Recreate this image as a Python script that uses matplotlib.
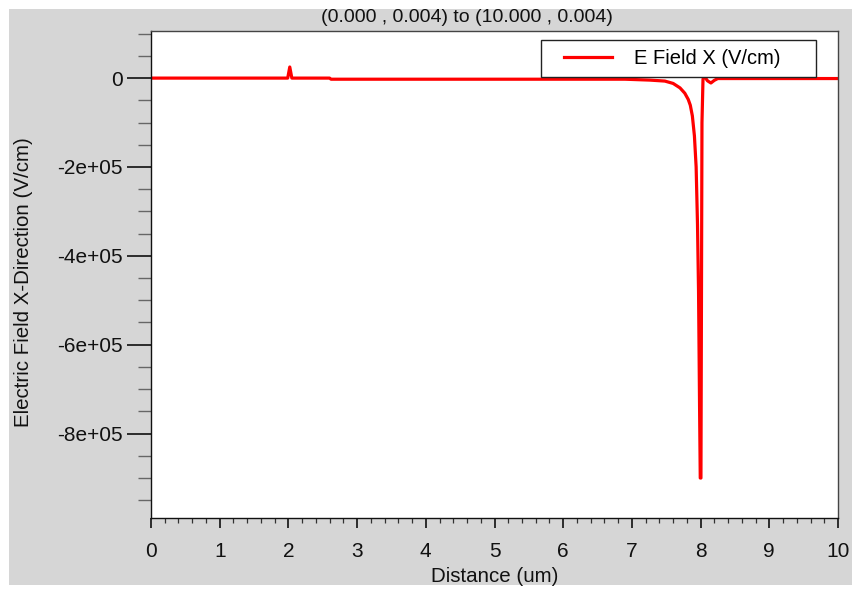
import matplotlib
matplotlib.use("Agg")
import matplotlib.pyplot as plt
from matplotlib.patches import Rectangle
from matplotlib.ticker import MultipleLocator
from matplotlib.legend_handler import HandlerLine2D
from matplotlib.lines import Line2D

plt.rcParams['font.family'] = ['Liberation Sans', 'DejaVu Sans']

# Cutline data: electric field x-component along y = 0.004
distance = [0.0, 1.99, 2.02, 2.05, 2.60, 2.62, 6.90, 7.26, 7.48, 7.60, 7.70, 7.77,
            7.82, 7.85, 7.88, 7.91, 7.935, 7.955, 7.97, 7.985, 7.995, 8.005,
            8.02, 8.035, 8.06, 8.10, 8.15, 8.20, 8.25, 8.40, 10.0]
e_field = [0.0, 0.0, 2.5e4, 0.0, 0.0, -2.5e3, -2.5e3, -4.5e3, -6.7e3, -1.2e4, -2.2e4,
           -3.4e4, -4.8e4, -6.1e4, -8.5e4, -1.3e5, -2.0e5, -3.3e5, -4.8e5, -7.4e5,
           -9.0e5, -9.0e5, -1.0e5, -2.0e3, 3.0e3, -6.0e3, -1.1e4, -5.0e3, -1.0e3,
           -1.0e3, -1.0e3]

title = "(0.000 , 0.004) to (10.000 , 0.004)"
series_label = "E Field X (V/cm)"

fig = plt.figure(figsize=(8.52, 5.90), dpi=100)
fig.patch.set_facecolor('white')
fig.patches.append(Rectangle((9 / 852, 5 / 590), 1 - 9 / 852, 576 / 590,
                             transform=fig.transFigure, facecolor='#d6d6d6',
                             edgecolor='none', zorder=-10))

ax = fig.add_axes([151 / 852, 72 / 590, 687 / 852, 487 / 590])
ax.set_facecolor('white')
ax.plot(distance, e_field, color='#ff0000', linewidth=2.3, label=series_label)

ax.set_xlim(0, 10)
ax.set_ylim(-9.9e5, 1.06e5)
ax.xaxis.set_major_locator(MultipleLocator(1))
ax.xaxis.set_minor_locator(MultipleLocator(0.2))
ax.yaxis.set_minor_locator(MultipleLocator(0.5e5))
ax.set_yticks([0, -2e5, -4e5, -6e5, -8e5])
ax.set_yticklabels(['0', '-2e+05', '-4e+05', '-6e+05', '-8e+05'])

ax.tick_params(axis='both', which='major', labelsize=15, colors='#111111')
ax.tick_params(axis='y', which='major', length=17, width=1.2, pad=3.5)
ax.tick_params(axis='y', which='minor', length=9.5, width=1.0, color='#666666')
ax.tick_params(axis='x', which='major', length=7, width=1.2, pad=10.5)
ax.tick_params(axis='x', which='minor', length=3.6, width=0.9, color='#333333')

for side in ['left', 'bottom']:
    ax.spines[side].set_color('#111111')
    ax.spines[side].set_linewidth(1.0)
for side in ['top', 'right']:
    ax.spines[side].set_color('#444444')
    ax.spines[side].set_linewidth(1.0)

fig.text(467 / 852, 1 - 17 / 590, title, ha='center', va='center',
         fontsize=14, color='#111111')
fig.text(495 / 852, 1 - 576 / 590, "Distance (um)", ha='center', va='center',
         fontsize=14.8, color='#111111')
fig.text(24 / 852, 1 - 282 / 590, "Electric Field X-Direction (V/cm)", ha='center',
         va='center', rotation=90, fontsize=14.8, color='#111111')

leg = ax.legend(loc='upper left', bbox_to_anchor=(0.568, 0.9815, 0.40, 0.0),
                mode='expand', fontsize=14.5, frameon=True, fancybox=False,
                borderaxespad=0, handlelength=3.05, handletextpad=1.1,
                borderpad=0.45,
                handler_map={Line2D: HandlerLine2D(xpad=0.7)})
leg.get_frame().set_edgecolor('#222222')
leg.get_frame().set_linewidth(1.0)
leg.get_frame().set_alpha(1)

fig.savefig("out.png", dpi=100)
